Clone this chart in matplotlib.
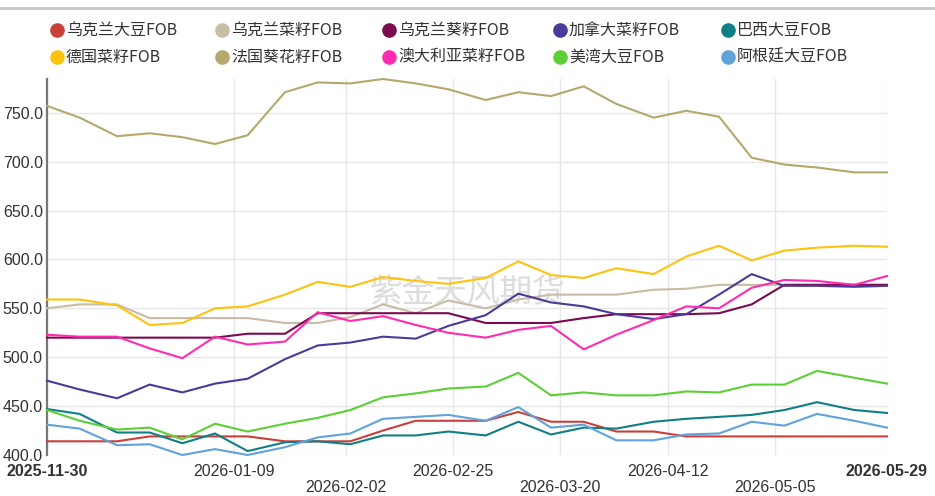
import numpy as np
import matplotlib
matplotlib.use("Agg")
import matplotlib.pyplot as plt
import pandas as pd

plt.rcParams['font.family'] = ['Liberation Sans', 'Noto Sans CJK SC', 'DejaVu Sans']

dates = pd.to_datetime([
    "2025-11-30", "2025-12-07", "2025-12-15", "2025-12-22", "2025-12-29",
    "2026-01-05", "2026-01-12", "2026-01-20", "2026-01-27", "2026-02-03",
    "2026-02-10", "2026-02-17", "2026-02-24", "2026-03-04", "2026-03-11",
    "2026-03-18", "2026-03-25", "2026-04-01", "2026-04-09", "2026-04-16",
    "2026-04-23", "2026-04-30", "2026-05-07", "2026-05-14", "2026-05-22",
    "2026-05-29"])

ua_soy = [414, 414, 414, 419, 419, 419, 419, 414, 414, 414, 425, 435, 435,
          435, 444, 434, 434, 424, 424, 419, 419, 419, 419, 419, 419, 419]
ua_rape = [550, 554, 554, 540, 540, 540, 540, 535, 535, 541, 554, 545, 558,
           550, 559, 564, 564, 564, 569, 570, 574, 574, 574, 574, 574, 574]
ua_sun = [520, 520, 520, 520, 520, 520, 524, 524, 545, 545, 545, 545, 545,
          535, 535, 535, 540, 544, 544, 544, 545, 554, 574, 574, 574, 574]
ca_rape = [476, 467, 458, 472, 464, 473, 478, 498, 512, 515, 521, 519, 532,
           543, 565, 556, 552, 544, 539, 544, 564, 585, 573, 573, 572, 573]
br_soy = [447, 442, 423, 423, 412, 422, 404, 413, 414, 411, 420, 420, 424,
          420, 434, 421, 428, 427, 434, 437, 439, 441, 446, 454, 446, 443]
de_rape = [559, 559, 553, 533, 535, 550, 552, 564, 577, 572, 582, 578, 575,
           581, 598, 584, 581, 591, 585, 603, 614, 599, 609, 612, 614, 613]
fr_sun = [757, 745, 726, 729, 725, 718, 727, 771, 781, 780, 784.5, 780, 774,
          763, 771, 767, 777, 759, 745, 752, 746, 704, 697, 694, 689, 689]
au_rape = [523, 521, 521, 509, 499, 521, 513, 516, 546, 537, 542, 533, 525,
           520, 528, 532, 508, 523, 538, 552, 550, 571, 579, 578, 574, 583]
us_soy = [446, 435, 426, 428, 416, 432, 424, 432, 438, 446, 459, 463, 468,
          470, 484, 461, 464, 461, 461, 465, 464, 472, 472, 486, 479, 473]
ar_soy = [431, 427, 410, 411, 400, 406, 400, 408, 418, 422, 437, 439, 441,
          435, 449, 428, 431, 415, 415, 421, 422, 434, 430, 442, 435, 428]

names = ["乌克兰大豆FOB", "乌克兰菜籽FOB", "乌克兰葵籽FOB", "加拿大菜籽FOB", "巴西大豆FOB",
         "德国菜籽FOB", "法国葵花籽FOB", "澳大利亚菜籽FOB", "美湾大豆FOB", "阿根廷大豆FOB"]
series = [ua_soy, ua_rape, ua_sun, ca_rape, br_soy,
          de_rape, fr_sun, au_rape, us_soy, ar_soy]
colors = ["#c9403a", "#c9bca6", "#7b0a4f", "#4a3a9a", "#0e7f87",
          "#ffc20e", "#b4a96c", "#ff2bb0", "#5ccf35", "#5fa2dc"]

tick_dates = pd.to_datetime(["2025-11-30", "2026-01-09", "2026-02-02", "2026-02-25",
                             "2026-03-20", "2026-04-12", "2026-05-05", "2026-05-29"])
tick_row = [0, 0, 1, 0, 1, 0, 1, 0]

fig = plt.figure(figsize=(9.35, 4.96), dpi=100)
ax = fig.add_axes([47 / 935, 1 - 455 / 496, 840 / 935, 376 / 496])

for vals, c in zip(series, colors):
    ax.plot(dates, vals, color=c, lw=1.5, clip_on=False, zorder=3)

ymax = max(max(s) for s in series)
ax.set_ylim(400, ymax)
ax.set_xlim(dates[0], dates[-1])
ax.set_yticks([400, 450, 500, 550, 600, 650, 700, 750])
ax.yaxis.set_major_formatter(matplotlib.ticker.FormatStrFormatter('%.1f'))
ax.set_xticks(tick_dates)
labels = [("\n" if r else "") + d.strftime("%Y-%m-%d") for d, r in zip(tick_dates, tick_row)]
ax.set_xticklabels(labels, linespacing=1.05)
for i, lab in enumerate(ax.get_xticklabels()):
    if i == 0 or i == len(tick_dates) - 1:
        lab.set_fontweight('bold')
ax.tick_params(axis='both', length=0, labelsize=11.5, colors='#333333')
ax.tick_params(axis='x', pad=6.5)
ax.tick_params(axis='y', pad=3)
for lab in ax.get_yticklabels():
    lab.set_va('center_baseline')
ax.grid(True, color='#e6e6e6', lw=1)
ax.set_axisbelow(True)
for s in ['top', 'right', 'bottom']:
    ax.spines[s].set_visible(False)
ax.spines['left'].set_color('#777777')
ax.spines['left'].set_linewidth(1.6)

# watermark
ax.text(0.5, 0.43, "紫金天风期货", transform=ax.transAxes, fontsize=23.5,
        color='#dcdcdc', ha='center', va='center', family=['Noto Sans CJK SC'], zorder=2)

# top rule
fig.add_artist(plt.Line2D([0, 1], [1 - 8 / 496, 1 - 8 / 496], color='#c8c8c8', lw=2))

# legend
col_x = [57, 222, 389, 560, 728]
row_y = [30, 57]
for i, (n, c) in enumerate(zip(names, colors)):
    x = col_x[i % 5] / 935
    y = 1 - row_y[i // 5] / 496
    fig.add_artist(plt.Line2D([x], [y], marker='o', markersize=9.5, color=c, lw=0))
    fig.text(x + 9 / 935, y, n, fontsize=11.5, color='#333333', va='center', ha='left',
             family=['Noto Sans CJK SC'])

fig.savefig("out.png", dpi=100)
